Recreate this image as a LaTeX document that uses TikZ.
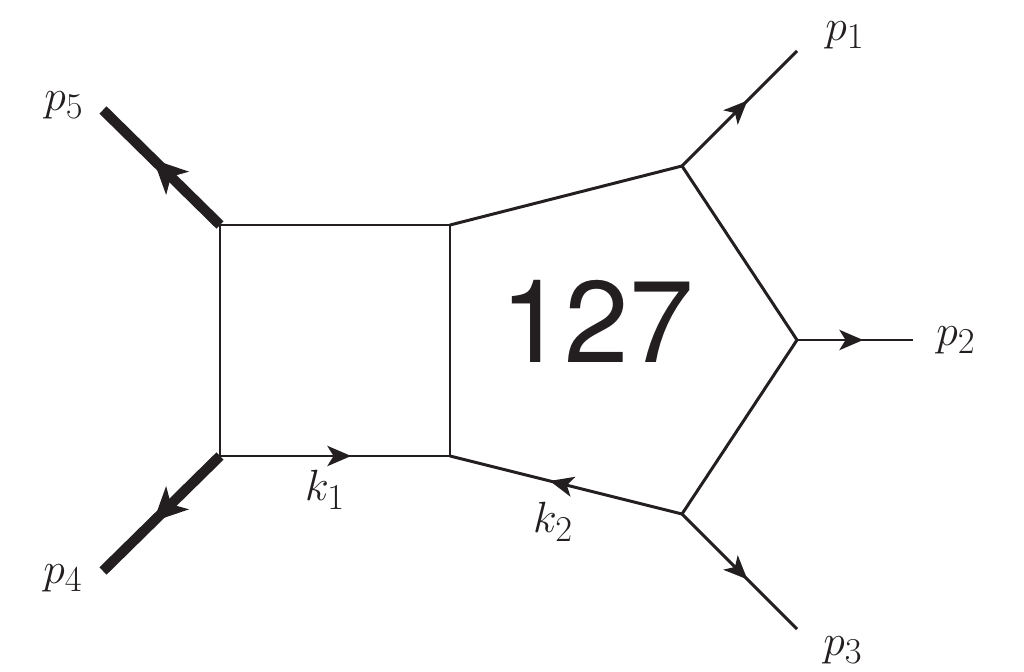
\documentclass[tikz,border=0pt]{standalone}
\usepackage{amsmath}
\usepackage{fontspec}
\newfontfamily\labelfont{TeX Gyre Heros}
\usetikzlibrary{arrows.meta, decorations.markings}
\definecolor{ink}{HTML}{231F20}

\begin{document}
\begin{tikzpicture}[
		x=0.02cm, y=-0.02cm,
		leg/.style={ink, line width=1.7pt},
		heavy/.style={ink, line width=5.8pt},
		flow/.style={postaction={decorate}, decoration={markings, mark=at position 0.57 with {\arrow[ink]{Stealth[length=13.5pt, width=11.5pt, inset=3.5pt]}}}},
		heavyflow/.style={postaction={decorate}, decoration={markings, mark=at position 0.57 with {\arrow[ink]{Stealth[length=19pt, width=18pt, inset=5pt]}}}},
		mom/.style={text=ink, font=\fontsize{31}{36}\selectfont, inner sep=0pt}
		]
		\useasboundingbox (0,0) rectangle (1024,672);

		% box
		\coordinate (a) at (220,225);
		\coordinate (b) at (450,225);
		\coordinate (c) at (450,456);
		\coordinate (d) at (220,456);
		% pentagon
		\coordinate (v1) at (682,166);
		\coordinate (v2) at (797,340);
		\coordinate (v3) at (682,514);
		% external ends
		\coordinate (e1) at (797,51);
		\coordinate (e2) at (913,340);
		\coordinate (e3) at (797,629);
		\coordinate (e4) at (103,571);
		\coordinate (e5) at (103,110);

		\draw[leg] (a) -- (b) -- (c);
		\draw[leg] (d) -- (a);
		\draw[leg, flow] (d) -- (c);
		\draw[leg] (b) -- (v1) -- (v2) -- (v3);
		\draw[leg, flow] (v3) -- (c);

		\draw[leg, flow] (v1) -- (e1);
		\draw[leg, flow] (v2) -- (e2);
		\draw[leg, flow] (v3) -- (e3);
		\draw[heavy, heavyflow] (a) -- (e5);
		\draw[heavy, heavyflow] (d) -- (e4);

		\node[text=ink, font=\labelfont\fontsize{66}{72}\selectfont] (tag) at (597,321) {127};

		\node[mom] (l1) at (845,35) {$p_1$};
		\node[mom] (l2) at (956,340) {$p_2$};
		\node[mom] (l3) at (843,650) {$p_3$};
		\node[mom] (l4) at (63,578) {$p_4$};
		\node[mom] (l5) at (64,105) {$p_5$};
		\node[mom] (q1) at (325,490) {$k_1$};
		\node[mom] (q2) at (553,522) {$k_2$};
	\end{tikzpicture}
\end{document}
